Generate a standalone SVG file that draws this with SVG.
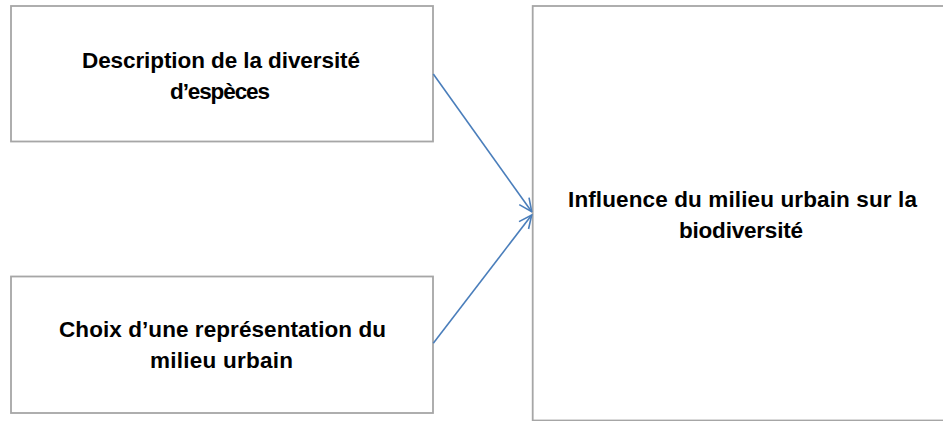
<svg xmlns="http://www.w3.org/2000/svg" width="943" height="421" viewBox="0 0 943 421">
<style>
.box{fill:#ffffff;stroke:#a6a6a6;stroke-width:1.8}
.lbl{font-family:"Liberation Sans",Arial,sans-serif;font-weight:bold;font-size:22.5px;fill:#000000;text-anchor:middle}
.conn{fill:none;stroke:#4a7ebb;stroke-width:1.6}
</style>
<defs>
<marker id="arr" viewBox="0 0 15 15" refX="14" refY="7.5" markerWidth="15" markerHeight="15" markerUnits="userSpaceOnUse" orient="auto">
<path d="M1,1.5 L14,7.5 L1,13.5" fill="none" stroke="#4a7ebb" stroke-width="1.6"/>
</marker>
</defs>
<rect width="943" height="421" fill="#ffffff"/>
<g id="node-description">
<rect class="box" x="11" y="6" width="422" height="135.5"/>
<text class="lbl" x="221" y="68" textLength="278">Description de la diversité</text>
<text class="lbl" x="220" y="99" textLength="100">d’espèces</text>
</g>
<g id="node-choix">
<rect class="box" x="11" y="276.5" width="422" height="136.5"/>
<text class="lbl" x="222.5" y="336.5" textLength="327">Choix d’une représentation du</text>
<text class="lbl" x="221.5" y="368" textLength="143">milieu urbain</text>
</g>
<g id="node-influence">
<rect class="box" x="532.7" y="6" width="430" height="414.5"/>
<text class="lbl" x="742.5" y="206.7" textLength="349">Influence du milieu urbain sur la</text>
<text class="lbl" x="741" y="238" textLength="124">biodiversité</text>
</g>
<g id="connectors">
<line class="conn" x1="433.3" y1="74" x2="531.7" y2="211.7" marker-end="url(#arr)"/>
<line class="conn" x1="433.3" y1="343.3" x2="531.7" y2="215" marker-end="url(#arr)"/>
</g>
</svg>
